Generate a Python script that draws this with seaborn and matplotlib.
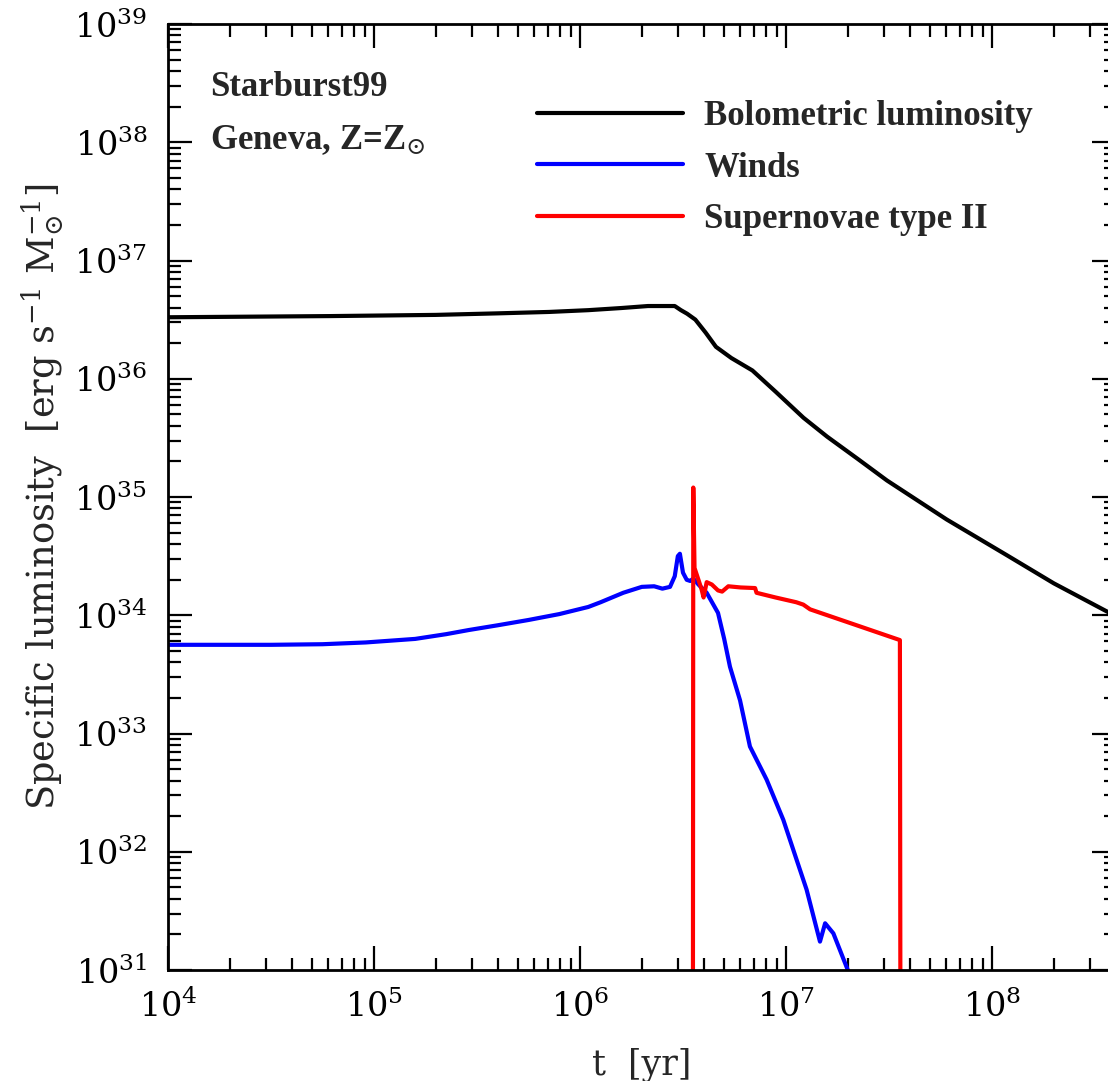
import numpy as np
import matplotlib
matplotlib.use("Agg")
import matplotlib.pyplot as plt
import seaborn as sns
from matplotlib.ticker import LogLocator, LogFormatterMathtext, NullFormatter

# Starburst99 energy output per unit stellar mass (Geneva tracks, solar metallicity)
# values given as log10(t / yr) and log10(L / erg s^-1 Msun^-1)
log_t_bol = [4.00, 4.79, 5.30, 5.60, 5.85, 6.04, 6.20, 6.33, 6.46, 6.49, 6.52,
             6.56, 6.61, 6.66, 6.735, 6.837, 6.95, 7.085, 7.20, 7.35, 7.49,
             7.78, 8.07, 8.30, 8.56, 8.602]
log_L_bol = [36.52, 36.53, 36.54, 36.553, 36.565, 36.58, 36.598, 36.615, 36.615,
             36.58, 36.55, 36.50, 36.39, 36.27, 36.175, 36.07, 35.89, 35.67,
             35.51, 35.32, 35.14, 34.81, 34.51, 34.27, 34.03, 33.99]

log_t_wind = [4.00, 4.50, 4.75, 4.96, 5.20, 5.35, 5.46, 5.60, 5.75, 5.90, 6.04,
              6.10, 6.21, 6.30, 6.36, 6.40, 6.437, 6.46, 6.475, 6.485, 6.50,
              6.518, 6.535, 6.55, 6.575, 6.615, 6.67, 6.70, 6.728, 6.777, 6.825,
              6.906, 6.987, 7.052, 7.10, 7.165, 7.19, 7.23, 7.30, 7.32]
log_L_wind = [33.75, 33.75, 33.755, 33.77, 33.80, 33.84, 33.875, 33.915, 33.96,
              34.01, 34.07, 34.11, 34.19, 34.24, 34.245, 34.225, 34.24, 34.33,
              34.50, 34.52, 34.36, 34.30, 34.29, 34.31, 34.26, 34.19, 34.02,
              33.80, 33.565, 33.28, 32.89, 32.61, 32.27, 31.93, 31.68, 31.24,
              31.395, 31.31, 31.0, 30.85]

log_t_sn = [6.548, 6.550, 6.556, 6.575, 6.590, 6.600, 6.615, 6.640, 6.670, 6.690,
            6.720, 6.780, 6.850, 6.857, 6.950, 7.050, 7.084, 7.117, 7.553, 7.556]
log_L_sn = [30.0, 35.08, 34.40, 34.30, 34.22, 34.15, 34.28, 34.26, 34.21, 34.20,
            34.245, 34.235, 34.23, 34.19, 34.15, 34.11, 34.09, 34.05, 33.79, 30.0]

series_labels = ["Bolometric luminosity", "Winds", "Supernovae type II"]
series_colors = ["#000000", "#0000ff", "#ff0000"]

sns.set_theme(style="ticks")
plt.rcParams.update({
    "font.family": ["DejaVu Serif"],
    "mathtext.fontset": "dejavuserif",
    "axes.linewidth": 2.0,
    "axes.edgecolor": "black",
    "xtick.color": "black",
    "ytick.color": "black",
    "xtick.labelcolor": "black",
    "ytick.labelcolor": "black",
})

W, H = 1108, 1081
fig = plt.figure(figsize=(W / 100, H / 100), dpi=100)
ax = fig.add_axes([168 / W, 1 - 970 / H, (1116 - 168) / W, (970 - 24) / H])
ax.set_xscale("log")
ax.set_yscale("log")

curves = [(log_t_bol, log_L_bol), (log_t_wind, log_L_wind), (log_t_sn, log_L_sn)]
for (lt, lL), lab, col in zip(curves, series_labels, series_colors):
    sns.lineplot(x=10.0 ** np.array(lt), y=10.0 ** np.array(lL), sort=False,
                 estimator=None, color=col, lw=3.0, label=lab, ax=ax)

ax.set_xlim(1e4, 4e8)
ax.set_ylim(1e31, 1e39)

for axis in (ax.xaxis, ax.yaxis):
    axis.set_major_locator(LogLocator(base=10, numticks=100))
    axis.set_minor_locator(LogLocator(base=10, subs=np.arange(2, 10), numticks=100))
    axis.set_major_formatter(LogFormatterMathtext())
    axis.set_minor_formatter(NullFormatter())

ax.tick_params(which="both", direction="in", top=True, right=True, width=1.6)
ax.tick_params(which="major", length=17, labelsize=24)
ax.tick_params(axis="y", which="major", pad=15)
ax.tick_params(axis="x", which="major", pad=14)
ax.tick_params(which="minor", length=9)

ax.set_xlabel("t  [yr]", fontsize=25, labelpad=17)
ax.set_ylabel(r"Specific luminosity  [erg s$^{-1}$ M$_{\odot}^{-1}$]", fontsize=26.5,
              labelpad=5)

note_font = {"family": "Liberation Serif", "weight": "bold", "size": 25}
ax.text(0.0443, 0.9334, "Starburst99", transform=ax.transAxes, va="center",
        ha="left", fontdict=note_font)
ax.text(0.0443, 0.8774, r"Geneva, Z=Z$_{\odot}$", transform=ax.transAxes,
        va="center", ha="left", fontdict=note_font)

ax.legend(loc="upper left", bbox_to_anchor=(0.3892, 0.9195), frameon=False,
          prop={"family": "Liberation Serif", "weight": "bold", "size": 25},
          handlelength=4.2, handletextpad=0.62, labelspacing=0.53,
          borderpad=0, borderaxespad=0)

fig.savefig("out.png", dpi=100)
